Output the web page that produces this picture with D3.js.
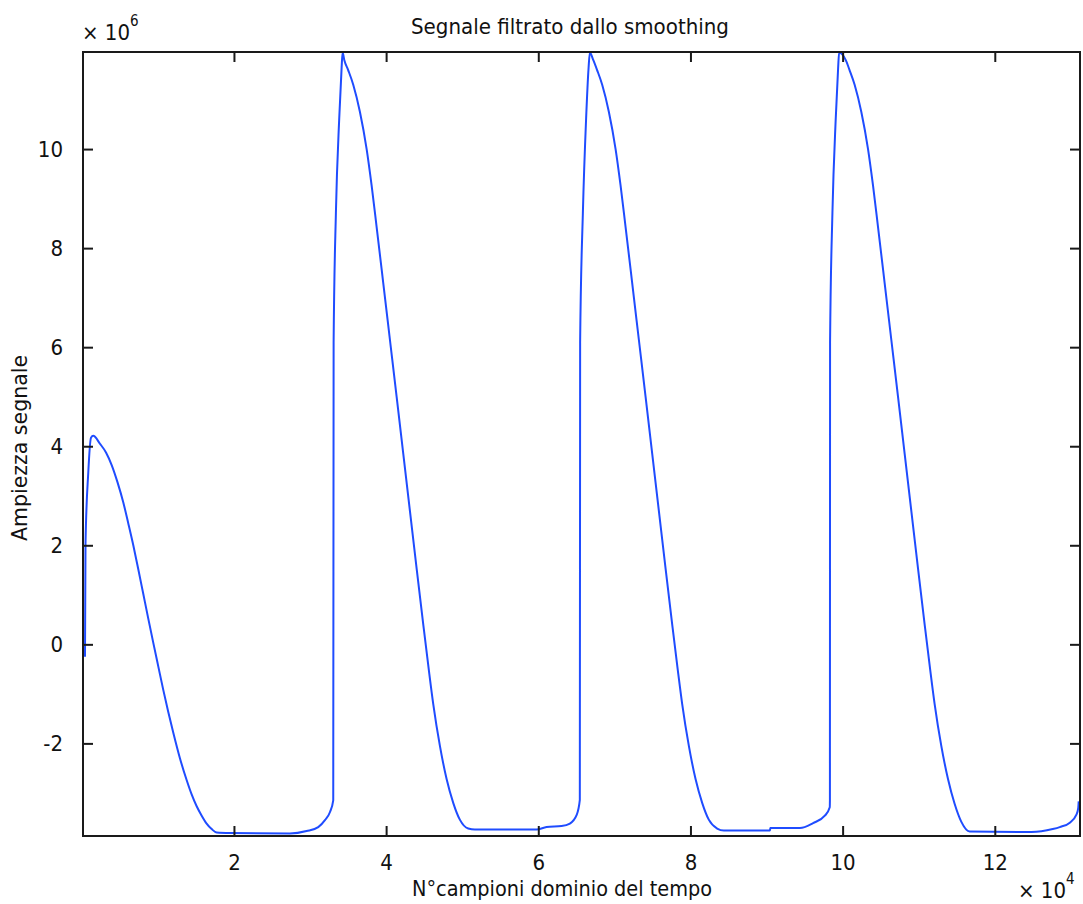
<!DOCTYPE html>
<html>
<head>
<meta charset="utf-8">
<script src="https://cdn.jsdelivr.net/npm/d3@7"></script>
<style>
  html, body { margin: 0; padding: 0; background: #fff; }
  svg { display: block; }
  text { font-family: "Liberation Sans Narrow", "DejaVu Sans Condensed", "Liberation Sans", Arial, sans-serif; fill: #111; }
</style>
</head>
<body>
<svg id="chart" width="1083" height="904"></svg>
<script>
// ---- data (x in samples, y in signal amplitude, ×1e6) ----
const sampleIndex = [
  420, 490, 850, 1210, 1510, 2390, 3200, 3930, 4700, 5450, 6100, 6770, 7420, 8080, 8740, 9400, 10060, 10710,
  11360, 12020, 12900, 13780, 14440, 15100, 15760, 16410, 17070, 17730,
  19470, 27360, 29550, 31080, 31960, 32610,
  33050, 33100, 33400, 33840, 34150, 34280,
  34500, 35000, 35680, 36560, 37440, 38090, 38750, 39620, 40500, 41380, 42260, 43140, 44020, 44900, 45600,
  46190, 47070, 47950, 48820, 49690, 50790, 51670,
  59770, 61090, 63060, 64150, 65030, 65460,
  65500, 65860, 66290, 66610, 66780,
  67220, 67720, 68400, 69280, 70160, 70810, 71470, 72340, 73220, 74100, 74980, 75860, 76740, 77620, 78320,
  78910, 79790, 80670, 81540, 82410, 83510, 84390,
  90440, 90500, 94390, 96120, 97660, 98310,
  98330, 98350, 98660, 99100, 99410, 99540,
  100400, 100900, 101580, 102460, 103340, 103990, 104650, 105520, 106400, 107280, 108160, 109040, 109920,
  110800, 111500, 112090, 112970, 113850, 114720, 115590, 116690,
  124820, 127620, 128540, 129860, 130730, 130970, 131030
];
const amplitude = [
  -0.25, 2.03, 3.46, 4.17, 4.21, 4.05, 3.87, 3.62, 3.27, 2.87, 2.45, 2.00, 1.52, 1.02, 0.52, 0.03, -0.45, -0.92,
  -1.36, -1.78, -2.30, -2.74, -3.03, -3.27, -3.46, -3.62, -3.73, -3.80,
  -3.81, -3.82, -3.77, -3.69, -3.55, -3.39,
  -3.15, 6.09, 8.71, 10.63, 11.64, 11.95,
  11.80, 11.60, 11.30, 10.75, 10.00, 9.27, 8.43, 7.30, 6.15, 5.00, 3.84, 2.68, 1.52, 0.38, -0.50,
  -1.20, -2.05, -2.72, -3.20, -3.54, -3.72, -3.74,
  -3.74, -3.69, -3.67, -3.62, -3.45, -3.14,
  6.09, 8.71, 10.63, 11.64, 11.95,
  11.80, 11.60, 11.30, 10.75, 10.00, 9.27, 8.43, 7.30, 6.15, 5.00, 3.84, 2.68, 1.52, 0.38, -0.50,
  -1.20, -2.05, -2.72, -3.20, -3.54, -3.72, -3.76,
  -3.76, -3.71, -3.71, -3.61, -3.46, -3.29,
  -3.15, 6.09, 8.71, 10.63, 11.64, 11.95,
  11.80, 11.60, 11.30, 10.75, 10.00, 9.27, 8.43, 7.30, 6.15, 5.00, 3.84, 2.68, 1.52,
  0.38, -0.50, -1.20, -2.05, -2.72, -3.22, -3.58, -3.78,
  -3.79, -3.73, -3.69, -3.60, -3.44, -3.30, -3.17
].map(v => v * 1e6);

const xTicks = [20000, 40000, 60000, 80000, 100000, 120000];
const xTickLabels = ["2", "4", "6", "8", "10", "12"];
const yTicks = [-2e6, 0, 2e6, 4e6, 6e6, 8e6, 10e6];
const yTickLabels = ["-2", "0", "2", "4", "6", "8", "10"];
const xDomain = [160, 131200];
const yDomain = [-3.87e6, 11.96e6];

const titleText = "Segnale filtrato dallo smoothing";
const xLabelText = "N°campioni dominio del tempo";
const yLabelText = "Ampiezza segnale";

// ---- layout ----
const svg = d3.select("#chart");
const L = 83, R = 1080, T = 52, B = 836;
const x = d3.scaleLinear().domain(xDomain).range([L, R]);
const y = d3.scaleLinear().domain(yDomain).range([B, T]);

const data = sampleIndex.map((s, i) => [s, amplitude[i]]);

svg.append("defs").append("clipPath").attr("id", "clip")
  .append("rect").attr("x", L).attr("y", T - 1).attr("width", R - L).attr("height", B - T + 2);

svg.append("path")
  .datum(data)
  .attr("clip-path", "url(#clip)")
  .attr("fill", "none")
  .attr("stroke", "#1f4cff")
  .attr("stroke-width", 2)
  .attr("stroke-linejoin", "round")
  .attr("d", d3.line().curve(d3.curveMonotoneX).x(d => x(d[0])).y(d => y(d[1])));

const axisColor = "#1a1a1a";
const tickLen = 10;
const fontSize = 22;

const xAxisB = d3.axisBottom(x).tickValues(xTicks).tickSizeInner(-tickLen).tickSizeOuter(0)
  .tickFormat((d, i) => xTickLabels[i]).tickPadding(tickLen + 8);
const xAxisT = d3.axisTop(x).tickValues(xTicks).tickSizeInner(-tickLen).tickSizeOuter(0).tickFormat("");
const yAxisL = d3.axisLeft(y).tickValues(yTicks).tickSizeInner(-tickLen).tickSizeOuter(0)
  .tickFormat((d, i) => yTickLabels[i]).tickPadding(tickLen + 10);
const yAxisR = d3.axisRight(y).tickValues(yTicks).tickSizeInner(-tickLen).tickSizeOuter(0).tickFormat("");

function style(g) {
  g.select(".domain").remove();
  g.selectAll("line").attr("stroke", axisColor).attr("stroke-width", 2);
  g.selectAll("text").style("font-size", fontSize + "px").attr("fill", "#111");
}
svg.append("g").attr("transform", `translate(0,${B})`).call(xAxisB).call(style);
svg.append("g").attr("transform", `translate(0,${T})`).call(xAxisT).call(style);
svg.append("g").attr("transform", `translate(${L},0)`).call(yAxisL).call(style);
svg.append("g").attr("transform", `translate(${R},0)`).call(yAxisR).call(style);

svg.append("rect").attr("x", L).attr("y", T).attr("width", R - L).attr("height", B - T)
  .attr("fill", "none").attr("stroke", axisColor).attr("stroke-width", 2);

svg.append("text").attr("x", 570).attr("y", 34).attr("text-anchor", "middle")
  .attr("textLength", 318).attr("lengthAdjust", "spacingAndGlyphs")
  .style("font-size", "21px").text(titleText);

svg.append("text").attr("x", 562).attr("y", 896).attr("text-anchor", "middle")
  .attr("textLength", 300).attr("lengthAdjust", "spacingAndGlyphs")
  .style("font-size", "21px").text(xLabelText);

svg.append("text").attr("transform", "translate(27,448) rotate(-90)").attr("text-anchor", "middle")
  .attr("textLength", 186).attr("lengthAdjust", "spacingAndGlyphs")
  .style("font-size", "21px").text(yLabelText);

const ey = svg.append("text").attr("x", 82).attr("y", 40).style("font-size", "22px");
ey.append("tspan").text("\u00d7 10");
ey.append("tspan").attr("dy", -14).style("font-size", "15px").text("6");

const ex = svg.append("text").attr("x", 1018).attr("y", 898).style("font-size", "22px");
ex.append("tspan").text("\u00d7 10");
ex.append("tspan").attr("dy", -14).style("font-size", "15px").text("4");
</script>
</body>
</html>
